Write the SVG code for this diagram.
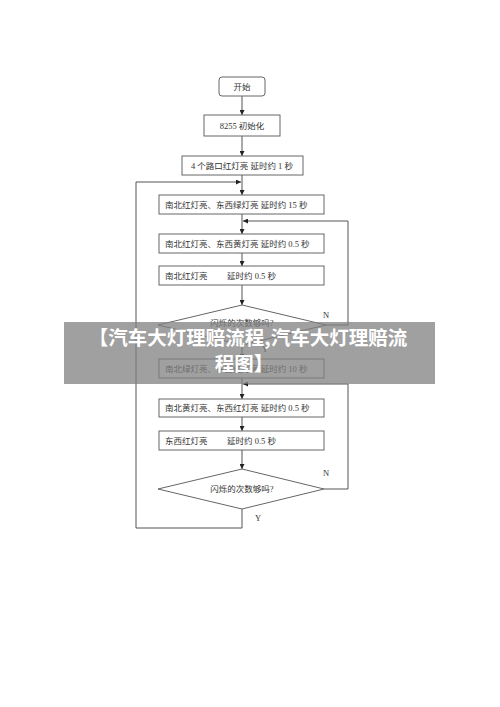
<svg xmlns="http://www.w3.org/2000/svg" width="500" height="707" viewBox="0 0 500 707">
<style>
.box{fill:#fff;stroke:#666;stroke-width:1}
.dia{fill:#fff;stroke:#666;stroke-width:1}
.t{font-family:"Liberation Serif","Noto Sans CJK SC",serif;font-size:8.5px;fill:#333}
.c{text-anchor:middle}
.ln{fill:none;stroke:#555;stroke-width:1}
.ban{font-family:"Noto Sans CJK SC","Noto Sans",sans-serif;font-size:19.5px;font-weight:bold;fill:#fff;text-anchor:middle}
</style>
<defs>
<marker id="ah" viewBox="0 0 8 8" refX="8" refY="4" markerWidth="5" markerHeight="5" orient="auto" markerUnits="userSpaceOnUse">
<path d="M0,0 L8,4 L0,8 Z" fill="#222"/>
</marker>
</defs>
<rect width="500" height="707" fill="#fff"/>
<g id="connectors">
<line class="ln" x1="242" y1="96" x2="242" y2="115" marker-end="url(#ah)"/>
<line class="ln" x1="242" y1="136" x2="242" y2="156" marker-end="url(#ah)"/>
<line class="ln" x1="242" y1="175" x2="242" y2="195" marker-end="url(#ah)"/>
<line class="ln" x1="242" y1="214" x2="242" y2="234" marker-end="url(#ah)"/>
<line class="ln" x1="242" y1="253" x2="242" y2="266" marker-end="url(#ah)"/>
<line class="ln" x1="242" y1="285" x2="242" y2="305" marker-end="url(#ah)"/>
<line class="ln" x1="242" y1="345" x2="242" y2="359" marker-end="url(#ah)"/>
<line class="ln" x1="242" y1="378" x2="242" y2="399" marker-end="url(#ah)"/>
<line class="ln" x1="242" y1="417" x2="242" y2="431" marker-end="url(#ah)"/>
<line class="ln" x1="242" y1="450" x2="242" y2="469" marker-end="url(#ah)"/>
<polyline class="ln" points="326,325 348,325 348,221 243,221" marker-end="url(#ah)"/>
<polyline class="ln" points="324,489 348,489 348,384 243,384" marker-end="url(#ah)"/>
<polyline class="ln" points="242,509 242,528 136,528 136,182 241,182" marker-end="url(#ah)"/>
<text class="t" x="323" y="318">N</text>
<text class="t" x="262" y="352">Y</text>
<text class="t" x="323" y="476">N</text>
<text class="t" x="255" y="521">Y</text>
</g>
<g id="start">
<rect class="box" x="219" y="77" width="46" height="19" rx="3"/>
<text class="t c" x="242" y="90">开始</text>
</g>
<g id="init">
<rect class="box" x="204" y="115" width="76" height="21"/>
<text class="t c" x="242" y="129">8255 初始化</text>
</g>
<g id="allred">
<rect class="box" x="182" y="156" width="121" height="19"/>
<text class="t c" x="242" y="169">4 个路口红灯亮  延时约 1 秒</text>
</g>
<g id="ns-red-ew-green">
<rect class="box" x="159" y="195" width="165" height="19"/>
<text class="t" x="165" y="208">南北红灯亮、东西绿灯亮 延时约 15 秒</text>
</g>
<g id="ns-red-ew-yellow">
<rect class="box" x="159" y="234" width="165" height="19"/>
<text class="t" x="165" y="247">南北红灯亮、东西黄灯亮 延时约 0.5 秒</text>
</g>
<g id="ns-red">
<rect class="box" x="159" y="266" width="165" height="19"/>
<text class="t" x="165" y="279">南北红灯亮</text>
<text class="t" x="227" y="279">延时约 0.5 秒</text>
</g>
<g id="blink1">
<polygon class="dia" points="242,305 326,325 242,345 158,325"/>
<text class="t c" x="242" y="326">闪烁的次数够吗?</text>
</g>
<g id="ns-green-ew-red">
<rect class="box" x="159" y="359" width="165" height="19"/>
<text class="t" x="165" y="372">南北绿灯亮、东西红灯亮 延时约 10 秒</text>
</g>
<g id="ns-yellow-ew-red">
<rect class="box" x="159" y="399" width="165" height="18"/>
<text class="t" x="165" y="411">南北黄灯亮、东西红灯亮 延时约 0.5 秒</text>
</g>
<g id="ew-red">
<rect class="box" x="159" y="431" width="165" height="19"/>
<text class="t" x="165" y="444">东西红灯亮</text>
<text class="t" x="227" y="444">延时约 0.5 秒</text>
</g>
<g id="blink2">
<polygon class="dia" points="242,469 324,489 242,509 158,489"/>
<text class="t c" x="242" y="492">闪烁的次数够吗?</text>
</g>
<g id="banner">
<rect x="64" y="322" width="371" height="62" fill="#808080" opacity="0.75"/>
<text class="ban" x="248" y="345">【汽车大灯理赔流程,汽车大灯理赔流</text>
<text class="ban" x="244" y="371">程图】</text>
</g>
</svg>
